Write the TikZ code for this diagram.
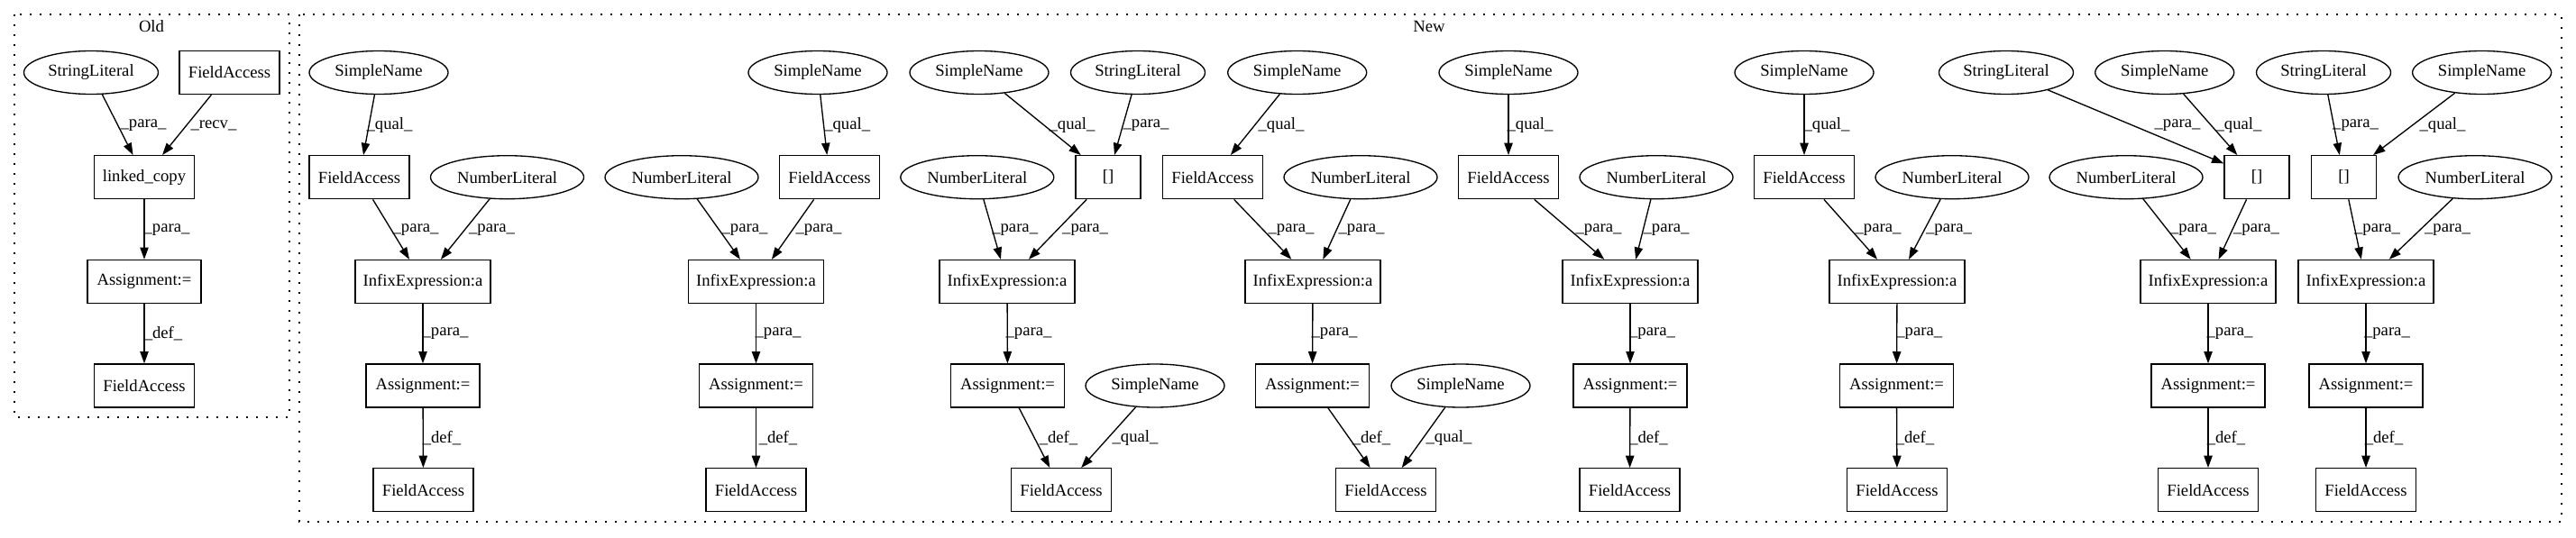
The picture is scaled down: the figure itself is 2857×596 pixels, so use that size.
\documentclass[tikz,border=0pt]{standalone}
\usepackage{fontspec}
\setmainfont{Liberation Serif}
\usetikzlibrary{shapes.geometric,arrows.meta}
\begin{document}
\begin{tikzpicture}[x=0.75pt,y=-0.75pt,
  every node/.style={font=\fontsize{14pt}{16pt}\selectfont},
  box/.style={draw,rectangle,line width=1pt,minimum height=36pt,inner sep=0pt},
  ell/.style={draw,ellipse,line width=1pt,minimum height=36pt,inner sep=0pt},
  fa/.style={box,minimum width=83.25pt},
  asg/.style={box,minimum width=94.5pt},
  inf/.style={box,minimum width=112.5pt},
  brk/.style={box,minimum width=54pt},
  sn/.style={ell,minimum width=115.5pt},
  sl/.style={ell,minimum width=111.75pt},
  nl/.style={ell,minimum width=127.5pt},
  arr/.style={-{Triangle[length=10pt,width=7pt]},line width=1pt},
  lbl/.style={inner sep=0pt},
  clus/.style={draw,line width=1pt,dash pattern=on 1.5pt off 6.75pt}]
\def\ra{80.5}\def\rb{196.7}\def\rc{312.5}\def\rd{428}\def\re{543.7}
\def\la{139}\def\lb{255}\def\lc{370}\def\ld{486}
\useasboundingbox (0,0) rectangle (2857,596);
% clusters
\draw[clus] (16,16) rectangle (321,463);
\draw[clus] (332,16) rectangle (2841,579);
\node (oldlbl) at (168,29.6) {Old};
\node (newlbl) at (1585,29.6) {New};
% Old
\node[sl] (osl) at (101,\ra) {StringLiteral};
\node[fa] (ofa) at (254.5,\ra) {FieldAccess};
\node[fa] (olc) at (160,\rb) {linked\_copy};
\node[asg] (oas) at (160,\rc) {Assignment:=};
\node[fa] (ofb) at (160,\rd) {FieldAccess};
\draw[arr] (osl) -- (olc) node[lbl] at (159,\la) {\_para\_};
\draw[arr] (ofa) -- (olc) node[lbl] at (237,\la) {\_recv\_};
\draw[arr] (olc) -- (oas) node[lbl] at (185,\lb) {\_para\_};
\draw[arr] (oas) -- (ofb) node[lbl] at (181,\lc) {\_def\_};
% G1
\node[sn] (a1) at (420,\ra) {SimpleName};
\node[fa] (b1) at (398.5,\rb) {FieldAccess};
\node[nl] (c1) at (562.5,\rb) {NumberLiteral};
\node[inf] (d1) at (469,\rc) {InfixExpression:a};
\node[asg] (e1) at (469,\rd) {Assignment:=};
\node[fa] (f1) at (469.5,\re) {FieldAccess};
\draw[arr] (a1) -- (b1) node[lbl] at (432,\la) {\_qual\_};
\draw[arr] (b1) -- (d1) node[lbl] at (461,\lb) {\_para\_};
\draw[arr] (c1) -- (d1) node[lbl] at (545.5,\lb) {\_para\_};
\draw[arr] (d1) -- (e1) node[lbl] at (494,\lc) {\_para\_};
\draw[arr] (e1) -- (f1) node[lbl] at (490,\ld) {\_def\_};
% G2
\node[sn] (a2) at (907,\ra) {SimpleName};
\node[fa] (b2) at (920,\rb) {FieldAccess};
\node[nl] (c2) at (756,\rb) {NumberLiteral};
\node[inf] (d2) at (838.5,\rc) {InfixExpression:a};
\node[asg] (e2) at (838.5,\rd) {Assignment:=};
\node[fa] (f2) at (838.5,\re) {FieldAccess};
\draw[arr] (a2) -- (b2) node[lbl] at (939.7,\la) {\_qual\_};
\draw[arr] (c2) -- (d2) node[lbl] at (826,\lb) {\_para\_};
\draw[arr] (b2) -- (d2) node[lbl] at (908,\lb) {\_para\_};
\draw[arr] (d2) -- (e2) node[lbl] at (863,\lc) {\_para\_};
\draw[arr] (e2) -- (f2) node[lbl] at (863,\ld) {\_def\_};
% G3
\node[sn] (a3) at (1086,\ra) {SimpleName};
\node[sl] (g3) at (1262,\ra) {StringLiteral};
\node[brk] (h3) at (1229,\rb) {[]};
\node[nl] (c3) at (1083.8,\rb) {NumberLiteral};
\node[inf] (d3) at (1117,\rc) {InfixExpression:a};
\node[asg] (e3) at (1117.5,\rd) {Assignment:=};
\node[sn] (s3) at (1281,\rd) {SimpleName};
\node[fa] (f3) at (1177,\re) {FieldAccess};
\draw[arr] (a3) -- (h3) node[lbl] at (1189,\la) {\_qual\_};
\draw[arr] (g3) -- (h3) node[lbl] at (1271,\la) {\_para\_};
\draw[arr] (c3) -- (d3) node[lbl] at (1125.7,\lb) {\_para\_};
\draw[arr] (h3) -- (d3) node[lbl] at (1203.6,\lb) {\_para\_};
\draw[arr] (d3) -- (e3) node[lbl] at (1141,\lc) {\_para\_};
\draw[arr] (e3) -- (f3) node[lbl] at (1174,\ld) {\_def\_};
\draw[arr] (s3) -- (f3) node[lbl] at (1259,\ld) {\_qual\_};
% G4
\node[sn] (a4) at (1438.7,\ra) {SimpleName};
\node[fa] (b4) at (1345,\rb) {FieldAccess};
\node[nl] (c4) at (1509,\rb) {NumberLiteral};
\node[inf] (d4) at (1456,\rc) {InfixExpression:a};
\node[asg] (e4) at (1455.5,\rd) {Assignment:=};
\node[sn] (s4) at (1620,\rd) {SimpleName};
\node[fa] (f4) at (1537,\re) {FieldAccess};
\draw[arr] (a4) -- (b4) node[lbl] at (1421,\la) {\_qual\_};
\draw[arr] (b4) -- (d4) node[lbl] at (1432,\lb) {\_para\_};
\draw[arr] (c4) -- (d4) node[lbl] at (1510,\lb) {\_para\_};
\draw[arr] (d4) -- (e4) node[lbl] at (1480,\lc) {\_para\_};
\draw[arr] (e4) -- (f4) node[lbl] at (1521,\ld) {\_def\_};
\draw[arr] (s4) -- (f4) node[lbl] at (1607,\ld) {\_qual\_};
% G5
\node[sn] (a5) at (1673,\ra) {SimpleName};
\node[fa] (b5) at (1673,\rb) {FieldAccess};
\node[nl] (c5) at (1837,\rb) {NumberLiteral};
\node[inf] (d5) at (1808,\rc) {InfixExpression:a};
\node[asg] (e5) at (1808,\rd) {Assignment:=};
\node[fa] (f5) at (1807.5,\re) {FieldAccess};
\draw[arr] (a5) -- (b5) node[lbl] at (1697,\la) {\_qual\_};
\draw[arr] (b5) -- (d5) node[lbl] at (1773,\lb) {\_para\_};
\draw[arr] (c5) -- (d5) node[lbl] at (1848,\lb) {\_para\_};
\draw[arr] (d5) -- (e5) node[lbl] at (1832.5,\lc) {\_para\_};
\draw[arr] (e5) -- (f5) node[lbl] at (1828.5,\ld) {\_def\_};
% G6
\node[sn] (a6) at (2001,\ra) {SimpleName};
\node[fa] (b6) at (2001,\rb) {FieldAccess};
\node[nl] (c6) at (2165,\rb) {NumberLiteral};
\node[inf] (d6) at (2104,\rc) {InfixExpression:a};
\node[asg] (e6) at (2103.5,\rd) {Assignment:=};
\node[fa] (f6) at (2104,\re) {FieldAccess};
\draw[arr] (a6) -- (b6) node[lbl] at (2026,\la) {\_qual\_};
\draw[arr] (b6) -- (d6) node[lbl] at (2083,\lb) {\_para\_};
\draw[arr] (c6) -- (d6) node[lbl] at (2161.5,\lb) {\_para\_};
\draw[arr] (d6) -- (e6) node[lbl] at (2128.7,\lc) {\_para\_};
\draw[arr] (e6) -- (f6) node[lbl] at (2124,\ld) {\_def\_};
% G7
\node[sl] (g7) at (2225,\ra) {StringLiteral};
\node[sn] (a7) at (2400.7,\ra) {SimpleName};
\node[brk] (h7) at (2503,\rb) {[]};
\node[nl] (c7) at (2358,\rb) {NumberLiteral};
\node[inf] (d7) at (2449,\rc) {InfixExpression:a};
\node[asg] (e7) at (2449,\rd) {Assignment:=};
\node[fa] (f7) at (2449,\re) {FieldAccess};
\draw[arr] (g7) -- (h7) node[lbl] at (2415,\la) {\_para\_};
\draw[arr] (a7) -- (h7) node[lbl] at (2483,\la) {\_qual\_};
\draw[arr] (c7) -- (d7) node[lbl] at (2432.5,\lb) {\_para\_};
\draw[arr] (h7) -- (d7) node[lbl] at (2502.5,\lb) {\_para\_};
\draw[arr] (d7) -- (e7) node[lbl] at (2473,\lc) {\_para\_};
\draw[arr] (e7) -- (f7) node[lbl] at (2469,\ld) {\_def\_};
% G8
\node[sl] (g8) at (2577,\ra) {StringLiteral};
\node[sn] (a8) at (2752.6,\ra) {SimpleName};
\node[brk] (h8) at (2599.6,\rb) {[]};
\node[nl] (c8) at (2745,\rb) {NumberLiteral};
\node[inf] (d8) at (2624,\rc) {InfixExpression:a};
\node[asg] (e8) at (2624,\rd) {Assignment:=};
\node[fa] (f8) at (2624,\re) {FieldAccess};
\draw[arr] (g8) -- (h8) node[lbl] at (2612.6,\la) {\_para\_};
\draw[arr] (a8) -- (h8) node[lbl] at (2709,\la) {\_qual\_};
\draw[arr] (h8) -- (d8) node[lbl] at (2636.5,\lb) {\_para\_};
\draw[arr] (c8) -- (d8) node[lbl] at (2714.5,\lb) {\_para\_};
\draw[arr] (d8) -- (e8) node[lbl] at (2647.4,\lc) {\_para\_};
\draw[arr] (e8) -- (f8) node[lbl] at (2644,\ld) {\_def\_};
\end{tikzpicture}
\end{document}
